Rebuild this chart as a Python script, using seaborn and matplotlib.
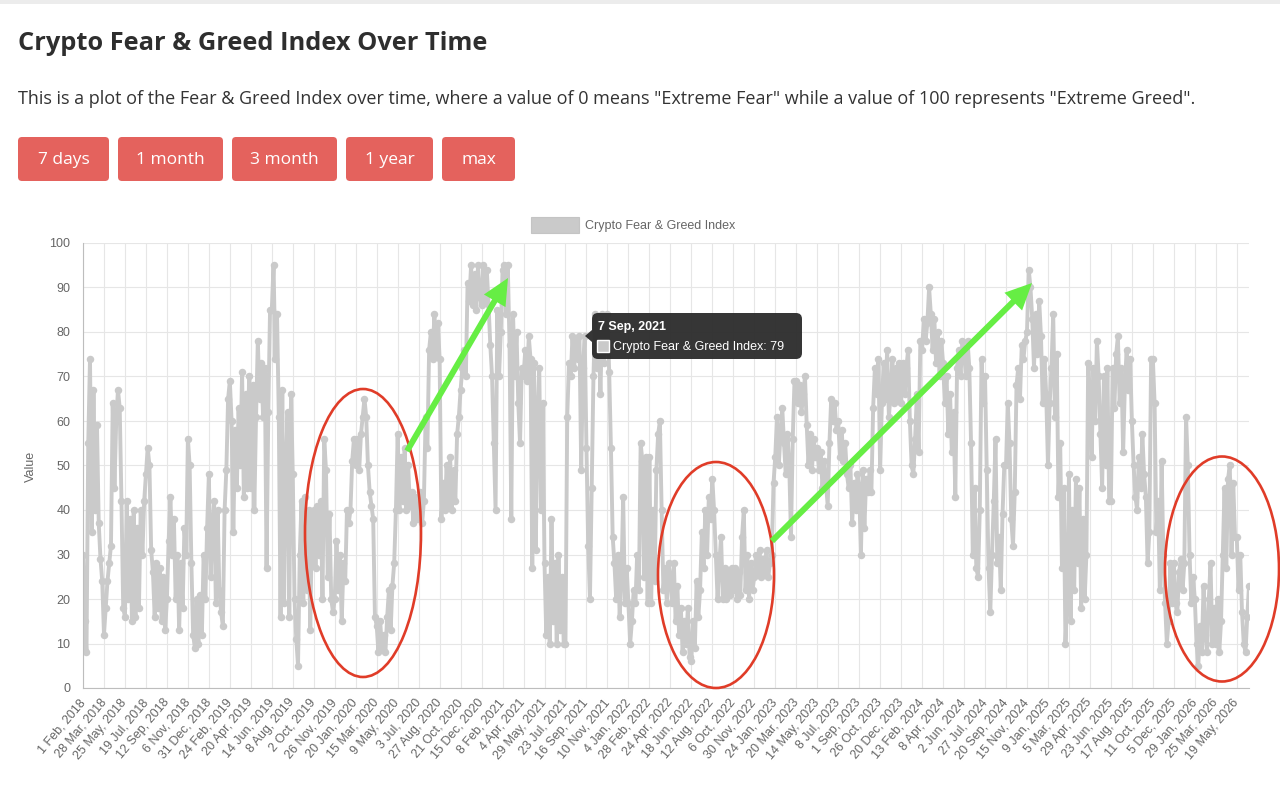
import numpy as np
import pandas as pd
import matplotlib
matplotlib.use("Agg")
import matplotlib.pyplot as plt
import seaborn as sns
from matplotlib.patches import FancyBboxPatch, Ellipse, Rectangle, Polygon, FancyArrowPatch

# ---------------- data ----------------
tick_labels = [
    "1 Feb, 2018", "28 Mar, 2018", "25 May, 2018", "19 Jul, 2018", "12 Sep, 2018",
    "6 Nov, 2018", "31 Dec, 2018", "24 Feb, 2019", "20 Apr, 2019", "14 Jun, 2019",
    "8 Aug, 2019", "2 Oct, 2019", "26 Nov, 2019", "20 Jan, 2020", "15 Mar, 2020",
    "9 May, 2020", "3 Jul, 2020", "27 Aug, 2020", "21 Oct, 2020", "15 Dec, 2020",
    "8 Feb, 2021", "4 Apr, 2021", "29 May, 2021", "23 Jul, 2021", "16 Sep, 2021",
    "10 Nov, 2021", "4 Jan, 2022", "28 Feb, 2022", "24 Apr, 2022", "18 Jun, 2022",
    "12 Aug, 2022", "6 Oct, 2022", "30 Nov, 2022", "24 Jan, 2023", "20 Mar, 2023",
    "14 May, 2023", "8 Jul, 2023", "1 Sep, 2023", "26 Oct, 2023", "20 Dec, 2023",
    "13 Feb, 2024", "8 Apr, 2024", "2 Jun, 2024", "27 Jul, 2024", "20 Sep, 2024",
    "15 Nov, 2024", "9 Jan, 2025", "5 Mar, 2025", "29 Apr, 2025", "23 Jun, 2025",
    "17 Aug, 2025", "11 Oct, 2025", "5 Dec, 2025", "29 Jan, 2026", "25 Mar, 2026",
    "19 May, 2026",
]

# index readings, 12 per gap between consecutive tick labels (~every 4.6 days)
fg_2018 = [30, 15, 8, 55, 74, 35, 67, 40, 59, 37, 29, 24,
           12, 18, 24, 28, 32, 64, 45, 60, 67, 63, 42, 18,
           16, 42, 20, 38, 15, 40, 16, 36, 18, 40, 30, 42,
           48, 54, 50, 31, 26, 16, 28, 18, 27, 15, 25, 13,
           20, 33, 43, 30, 38, 20, 30, 13, 28, 18, 36, 30,
           56, 50, 28, 12, 9, 20, 10, 21, 12, 30, 20, 36]
fg_2019 = [48, 25, 35, 42, 19, 40, 22, 17, 14, 40, 49, 65,
           69, 60, 35, 58, 45, 63, 50, 71, 43, 66, 45, 70,
           45, 68, 40, 61, 78, 65, 73, 61, 72, 27, 62, 85,
           85, 95, 74, 84, 61, 16, 67, 19, 49, 62, 16, 66,
           48, 20, 11, 5, 30, 42, 19, 43, 22, 40, 13, 38,
           40, 27, 41, 30, 42, 20, 56, 49, 25, 39, 20, 17,
           20, 33, 22, 30, 15, 28, 24, 40, 37, 40, 51, 56]
fg_2020 = [50, 56, 49, 57, 61, 65, 61, 50, 44, 41, 38, 16,
           14, 8, 15, 9, 12, 8, 16, 22, 13, 23, 28, 40,
           57, 40, 52, 42, 54, 40, 50, 41, 44, 37, 43, 38,
           40, 44, 37, 42, 61, 54, 76, 80, 74, 84, 75, 82,
           74, 38, 46, 40, 50, 41, 52, 40, 49, 42, 57, 61,
           67, 72, 76, 70, 91, 87, 95, 86, 93, 85, 95, 88,
           86, 95, 87, 94, 86, 77, 70, 55, 40, 85, 70, 80]
fg_2021 = [94, 95, 84, 95, 77, 38, 84, 70, 80, 64, 55, 72,
           70, 76, 69, 79, 74, 27, 73, 31, 61, 72, 40, 64,
           28, 12, 25, 10, 38, 15, 28, 10, 30, 13, 25, 10,
           10, 61, 73, 70, 79, 72, 78, 74, 79, 49, 72, 79,
           54, 32, 20, 45, 70, 84, 72, 80, 66, 84, 73, 80,
           84, 71, 54, 34, 28, 20, 30, 16, 25, 43, 19, 27]
fg_2022 = [19, 10, 15, 22, 19, 30, 22, 55, 51, 25, 52, 19,
           52, 19, 40, 24, 49, 57, 60, 40, 22, 27, 19, 28,
           25, 19, 28, 15, 23, 12, 18, 8, 15, 10, 18, 7,
           6, 15, 9, 24, 16, 22, 35, 27, 40, 30, 43, 38,
           47, 40, 30, 20, 28, 34, 20, 27, 20, 26, 21, 27,
           22, 27, 20, 26, 21, 34, 40, 22, 30, 20, 28, 22,
           25, 30, 26, 31, 25, 29, 26, 31, 25, 28, 30, 46]
fg_2023 = [52, 61, 50, 57, 63, 55, 48, 57, 50, 34, 56, 69,
           69, 64, 68, 62, 66, 70, 59, 50, 57, 49, 56, 52,
           54, 49, 53, 45, 51, 46, 41, 55, 65, 60, 64, 58,
           60, 52, 58, 51, 55, 48, 45, 50, 37, 46, 40, 48,
           45, 30, 49, 36, 47, 44, 49, 44, 63, 72, 66, 74,
           49, 64, 73, 65, 76, 61, 66, 74, 64, 72, 65, 73,
           64, 73, 66, 72, 76, 60, 50, 48, 56, 66, 53, 78]
fg_2024 = [76, 83, 78, 82, 90, 84, 76, 83, 73, 80, 70, 78,
           73, 64, 70, 57, 66, 53, 62, 43, 72, 76, 70, 78,
           76, 70, 78, 72, 55, 30, 45, 27, 25, 40, 74, 64,
           70, 49, 27, 17, 30, 42, 56, 28, 34, 22, 39, 50,
           50, 64, 55, 38, 32, 44, 68, 72, 65, 77, 74, 78,
           80, 94, 90, 83, 72, 84, 75, 87, 79, 64, 74, 66]
fg_2025 = [50, 64, 72, 84, 61, 75, 43, 55, 27, 45, 10, 20,
           48, 15, 40, 22, 47, 28, 45, 18, 38, 20, 30, 73,
           66, 52, 72, 60, 78, 70, 57, 45, 70, 50, 72, 42,
           42, 72, 63, 75, 79, 64, 72, 53, 68, 76, 67, 74,
           60, 50, 43, 40, 52, 45, 57, 48, 43, 28, 35, 74,
           74, 64, 35, 42, 22, 51, 30, 19, 10, 15, 28, 19,
           28, 19, 17, 26, 29, 22, 28, 61, 50, 30, 19, 25]
fg_2026 = [20, 10, 5, 14, 8, 23, 12, 8, 20, 28, 10, 18,
           10, 20, 8, 15, 30, 45, 27, 47, 50, 30, 46, 34,
           34, 22, 30, 17, 10, 8, 16, 23]

series_name = "Crypto Fear & Greed Index"
tooltip_date = "7 Sep, 2021"
tooltip_value = 79

values = fg_2018 + fg_2019 + fg_2020 + fg_2021 + fg_2022 + fg_2023 + fg_2024 + fg_2025 + fg_2026
DAYS_PER_LABEL = 55
READS_PER_LABEL = 12
day = np.arange(len(values)) * (DAYS_PER_LABEL / READS_PER_LABEL)
df = pd.DataFrame({"day": day, "value": values})

# ---------------- style ----------------
sns.set_theme(style="white")
plt.rcParams['font.family'] = ['Liberation Sans', 'DejaVu Sans']

GREY = "#cacaca"
AX_TXT = "#666666"
RED_BTN = "#e4625d"
W, H = 1280, 786

fig = plt.figure(figsize=(W / 100, H / 100), dpi=100)
fig.patch.set_facecolor("white")


def px_rect(l, t, r, b):
    return [l / W, 1 - b / H, (r - l) / W, (b - t) / H]


ax = fig.add_axes(px_rect(83, 243, 1249, 688))
sns.lineplot(data=df, x="day", y="value", ax=ax, color=GREY, linewidth=2.8,
             marker="o", markersize=5.4, markeredgewidth=0, estimator=None,
             sort=False, legend=False)
ax.set_xlim(0, day[-1])
ax.set_ylim(0, 100)
ax.set_xticks(np.arange(len(tick_labels)) * DAYS_PER_LABEL)
ax.set_xticklabels(tick_labels)
ax.set_yticks(range(0, 101, 10))
ax.set_xlabel("")
ax.set_ylabel("")
ax.grid(True, color="#e6e6e6", linewidth=0.8)
ax.set_axisbelow(True)
for s in ["top", "right"]:
    ax.spines[s].set_visible(False)
for s in ["left", "bottom"]:
    ax.spines[s].set_color("#bdbdbd")
    ax.spines[s].set_linewidth(0.8)
ax.tick_params(axis="both", which="both", length=6, width=0.8, color="#e3e3e3",
               labelsize=9, labelcolor=AX_TXT, pad=3)
for lab in ax.get_xticklabels():
    lab.set_rotation(50)
    lab.set_ha("right")
    lab.set_va("center")
    lab.set_rotation_mode("anchor")

# ---------------- overlay in page pixels ----------------
ov = fig.add_axes([0, 0, 1, 1], zorder=10)
ov.set_xlim(0, W)
ov.set_ylim(H, 0)
ov.axis("off")
ov.patch.set_alpha(0)

renderer = fig.canvas.get_renderer()


def fit_text(x, y, s, width_px, **kw):
    t = ov.text(x, y, s, fontsize=10, **kw)
    w = t.get_window_extent(renderer=renderer).width
    t.set_fontsize(10 * width_px / w)
    return t


ov.add_patch(Rectangle((0, 0), W, 4, color="#ececec", lw=0))

PAGE_FONT = ["Open Sans", "DejaVu Sans"]
fit_text(18, 44, "Crypto Fear & Greed Index Over Time", 469, family=PAGE_FONT,
         fontweight="bold", color="#2e2e2e", va="center", ha="left")
fit_text(18, 99, 'This is a plot of the Fear & Greed Index over time, where a value of 0 means '
         '"Extreme Fear" while a value of 100 represents "Extreme Greed".', 1177,
         family=PAGE_FONT, color="#333333", va="center", ha="left")

buttons = [("7 days", 18, 109), ("1 month", 118, 223), ("3 month", 232, 337),
           ("1 year", 346, 433), ("max", 442, 515)]
for label, l, r in buttons:
    ov.add_patch(FancyBboxPatch((l, 137), r - l, 44, boxstyle="round,pad=0,rounding_size=4",
                                fc=RED_BTN, ec="none"))
    ov.text((l + r) / 2, 160, label, color="white", family=PAGE_FONT,
            va="center", ha="center", fontsize=12.5)

# legend
ov.add_patch(Rectangle((531, 217), 48, 16, fc=GREY, ec="#c4c4c4", lw=0.8))
ov.text(585, 225.5, series_name, fontsize=9, color=AX_TXT, va="center", ha="left")

# y axis title
ov.text(31, 466, "Value", rotation=90, fontsize=9, color=AX_TXT, va="center", ha="center")

# red ellipses
for cx, cy, ew, eh in [(363, 533, 116, 288), (716, 575, 116, 226), (1222, 569, 114, 225)]:
    ov.add_patch(Ellipse((cx, cy), ew, eh, fill=False, ec="#e03c28", lw=1.9))

# green arrows
for (x0, y0), (x1, y1) in [((407, 451), (508, 278)), ((772, 541), (1032, 283))]:
    ov.add_patch(FancyArrowPatch((x0, y0), (x1, y1),
                                 arrowstyle="simple,head_length=19,head_width=18,tail_width=4.3",
                                 mutation_scale=1, shrinkA=0, shrinkB=0,
                                 fc="#66ee44", ec="none"))

# tooltip
TT = "#2b2b2b"
ov.add_patch(FancyBboxPatch((592, 313), 210, 46, boxstyle="round,pad=0,rounding_size=6",
                            fc=TT, ec="none", alpha=0.95))
ov.add_patch(Polygon([(585, 336), (592, 330), (592, 342)], closed=True, fc=TT, ec="none", alpha=0.95))
ov.text(598, 327, tooltip_date, fontsize=9, fontweight="bold", color="white", va="center", ha="left")
ov.add_patch(Rectangle((597, 340), 12, 12, fc=GREY, ec="white", lw=1))
ov.text(613, 347, f"{series_name}: {tooltip_value}", fontsize=9, color="white", va="center", ha="left")

fig.savefig("out.png", dpi=100, facecolor="white")
